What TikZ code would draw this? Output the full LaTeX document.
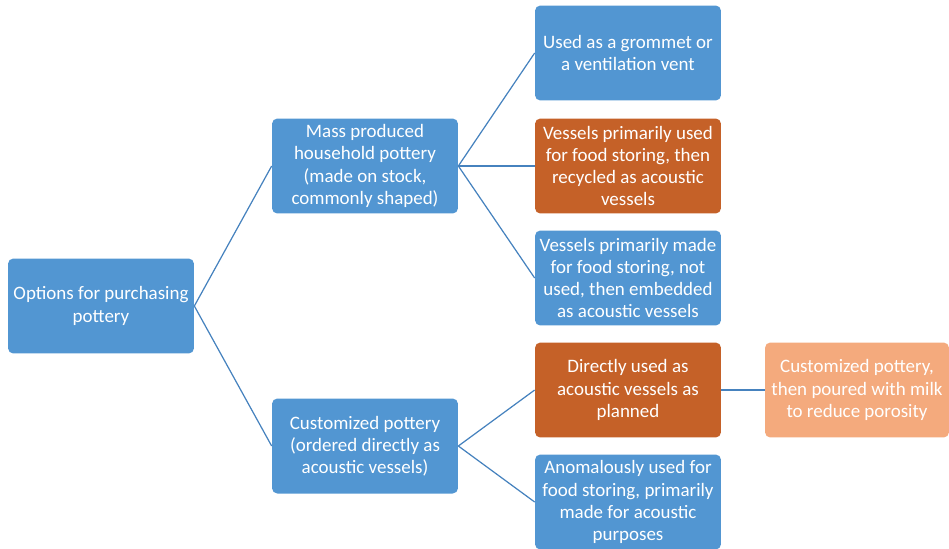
\documentclass[tikz,border=0pt]{standalone}
\usepackage{fontspec}
\setmainfont{Carlito}
\definecolor{boxblue}{RGB}{82,150,210}
\definecolor{boxorange}{RGB}{197,97,40}
\definecolor{boxpeach}{RGB}{244,170,125}
\definecolor{lineblue}{RGB}{70,130,190}
\tikzset{
  box/.style={rectangle, rounded corners=3pt, fill=boxblue, text=white,
    minimum width=3.72cm, minimum height=1.9cm, align=center, inner sep=2pt,
    font=\fontsize{10.8pt}{12.6pt}\selectfont},
  orangebox/.style={box, fill=boxorange},
  peachbox/.style={box, fill=boxpeach, minimum width=3.68cm},
  link/.style={draw=lineblue, line width=0.7pt}
}
\begin{document}
\begin{tikzpicture}[x=0.02cm, y=-0.02cm]
\useasboundingbox (0,0) rectangle (949,548);
% nodes

\node[box] (root) at (101, 306) {Options for purchasing\\pottery};
\node[box] (mass) at (365, 166) {Mass produced\\household pottery\\(made on stock,\\commonly shaped)};
\node[box] (custom) at (365, 446) {Customized pottery\\(ordered directly as\\acoustic vessels)};

\node[box] (grommet) at (628, 53) {Used as a grommet or\\a ventilation vent};
\node[orangebox] (recycled) at (628, 166) {Vessels primarily used\\for food storing, then\\recycled as acoustic\\vessels};
\node[box] (notused) at (628, 278) {Vessels primarily made\\for food storing, not\\used, then embedded\\as acoustic vessels};
\node[orangebox] (direct) at (628, 390) {Directly used as\\acoustic vessels as\\planned};
\node[box] (anomal) at (628, 502) {Anomalously used for\\food storing, primarily\\made for acoustic\\purposes};
\node[peachbox] (milk) at (857, 390) {Customized pottery,\\then poured with milk\\to reduce porosity};

% lines
\draw [link] (root.east)--(mass.west);
\draw [link] (root.east)--(custom.west);
\draw [link] (mass.east)--(grommet.west);
\draw [link] (mass.east)--(recycled.west);
\draw [link] (mass.east)--(notused.west);
\draw [link] (custom.east)--(direct.west);
\draw [link] (custom.east)--(anomal.west);
\draw [link] (direct.east)--(milk.west);

\end{tikzpicture}
\end{document}
